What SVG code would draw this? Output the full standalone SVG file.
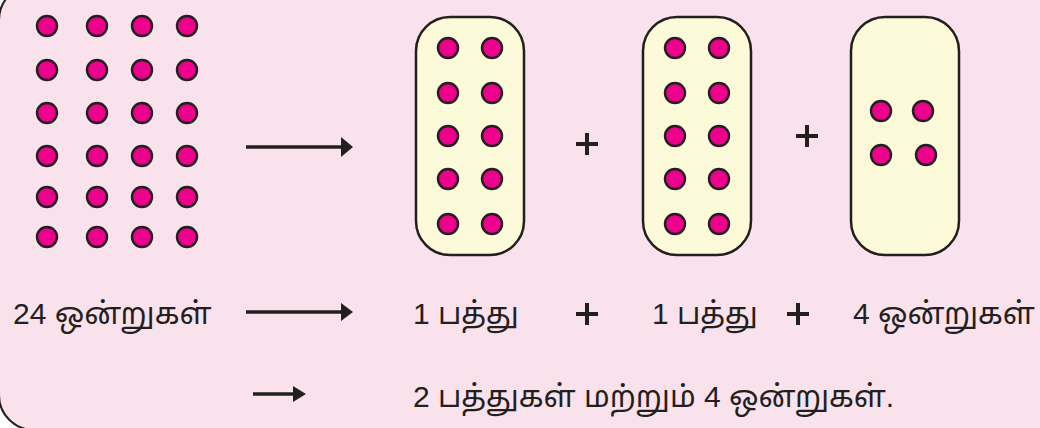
<svg xmlns="http://www.w3.org/2000/svg" width="1040" height="428" viewBox="0 0 1040 428">
<defs>
<style>
.bg{fill:#f9e2ec;stroke:#231f20;stroke-width:2}
.box{fill:#fdfad9;stroke:#231f20;stroke-width:2.5}
.dot{fill:#ec008c;stroke:#231f20;stroke-width:2.4}
.plus{stroke:#231f20;stroke-width:4;fill:none}
.txt{font-family:"Liberation Sans","Noto Sans Tamil","Noto Sans",sans-serif;font-size:30px;fill:#231f20}
.arr{stroke:#231f20;stroke-width:3.4;fill:none}
.head{fill:#231f20}
</style>
<circle id="d" r="10" class="dot"/>
</defs>
<rect x="-1" y="-15" width="1080" height="445" rx="35" ry="35" class="bg"/>
<g id="ones24">
<use href="#d" x="47" y="26"/><use href="#d" x="97" y="26"/><use href="#d" x="142" y="26"/><use href="#d" x="187" y="26"/>
<use href="#d" x="47" y="70"/><use href="#d" x="97" y="70"/><use href="#d" x="142" y="70"/><use href="#d" x="187" y="70"/>
<use href="#d" x="47" y="113"/><use href="#d" x="97" y="113"/><use href="#d" x="142" y="113"/><use href="#d" x="187" y="113"/>
<use href="#d" x="47" y="156"/><use href="#d" x="97" y="156"/><use href="#d" x="142" y="156"/><use href="#d" x="187" y="156"/>
<use href="#d" x="47" y="197"/><use href="#d" x="97" y="197"/><use href="#d" x="142" y="197"/><use href="#d" x="187" y="197"/>
<use href="#d" x="47" y="237"/><use href="#d" x="97" y="237"/><use href="#d" x="142" y="237"/><use href="#d" x="187" y="237"/>
</g>
<g id="ten1">
<rect x="416" y="17" width="108" height="238" rx="34" class="box"/>
<use href="#d" x="448" y="48"/><use href="#d" x="492" y="48"/>
<use href="#d" x="448" y="93"/><use href="#d" x="492" y="93"/>
<use href="#d" x="448" y="136"/><use href="#d" x="492" y="136"/>
<use href="#d" x="448" y="179"/><use href="#d" x="492" y="179"/>
<use href="#d" x="448" y="224"/><use href="#d" x="492" y="224"/>
</g>
<g id="ten2">
<rect x="643" y="17" width="108" height="238" rx="34" class="box"/>
<use href="#d" x="675" y="48"/><use href="#d" x="719" y="48"/>
<use href="#d" x="675" y="93"/><use href="#d" x="719" y="93"/>
<use href="#d" x="675" y="136"/><use href="#d" x="719" y="136"/>
<use href="#d" x="675" y="179"/><use href="#d" x="719" y="179"/>
<use href="#d" x="675" y="224"/><use href="#d" x="719" y="224"/>
</g>
<g id="ones4">
<rect x="851" y="17" width="108" height="238" rx="34" class="box"/>
<use href="#d" x="881" y="111"/><use href="#d" x="923" y="111"/>
<use href="#d" x="881" y="155"/><use href="#d" x="926" y="155"/>
</g>
<g id="plus1"><path class="plus" d="M576 144H598M587 133V155"/></g>
<g id="plus2"><path class="plus" d="M796 136H818M807 125V147"/></g>
<g id="connectors">
<path class="arr" d="M246 147H344"/><path class="head" d="M341 137L353 147L341 157Z"/>
<path class="arr" d="M246 312H344"/><path class="head" d="M341 303L353 312L341 321Z"/>
<path class="arr" d="M253 394H296"/><path class="head" d="M293 386L306 394L293 402Z"/>
</g>
<g id="labels">
<text class="txt" x="13" y="324">24 ஒன்றுகள்</text>
<text class="txt" x="413" y="324">1 பத்து</text>
<path class="plus" d="M576 314H598M587 303V325"/>
<text class="txt" x="652" y="324">1 பத்து</text>
<path class="plus" d="M787 314H809M798 303V325"/>
<text class="txt" x="853" y="324">4 ஒன்றுகள்</text>
<text class="txt" x="413" y="407">2 பத்துகள் மற்றும் 4 ஒன்றுகள்.</text>
</g>
</svg>
